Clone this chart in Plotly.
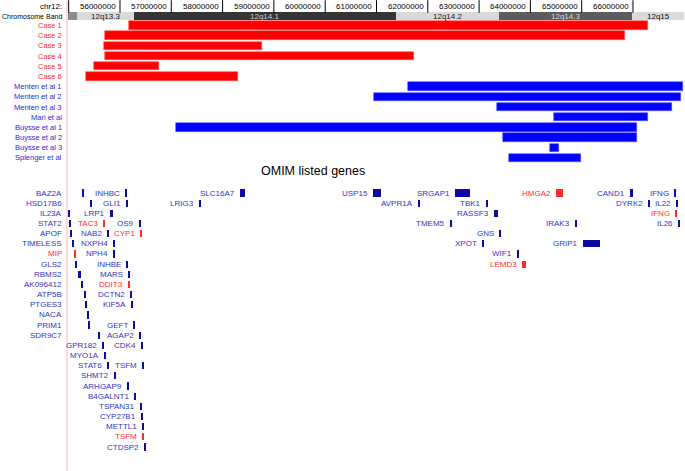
import plotly.graph_objects as go

# ---------------- data (positions in Mb on chr12) ----------------
tick_values = [55, 56, 57, 58, 59, 60, 61, 62, 63, 64, 65, 66]
tick_labels = ["", "56000000", "57000000", "58000000", "59000000", "60000000",
               "61000000", "62000000", "63000000", "64000000", "65000000", "66000000"]

band_names = ["", "12q13.3", "12q14.1", "12q14.2", "12q14.3", "12q15"]
band_starts = [54.98, 55.16, 56.27, 61.38, 63.39, 65.98]
band_ends = [55.16, 56.27, 61.38, 63.39, 65.98, 67.00]
band_colors = ["#8c8c8c", "#d9d9d9", "#353535", "#d9d9d9", "#5c5c5c", "#d9d9d9"]
band_text_colors = ["#000000", "#222222", "#d0d0d0", "#222222", "#d8d8d8", "#111111"]

track_names = ["Case 1", "Case 2", "Case 3", "Case 4", "Case 5", "Case 6",
               "Menten et al 1", "Menten et al 2", "Menten et al 3", "Mari et al",
               "Buysse et al 1", "Buysse et al 2", "Buysse et al 3", "Splenger et al"]
track_starts = [56.175, 55.71, 55.69, 55.71, 55.49, 55.34,
                61.61, 60.95, 63.35, 64.46, 57.09, 63.47, 64.38, 63.58]
track_ends = [66.29, 65.84, 58.77, 61.73, 56.76, 58.30,
              66.97, 66.94, 66.76, 66.29, 66.08, 66.08, 64.56, 64.99]
track_is_case = [True] * 6 + [False] * 8

gene_names = ["BAZ2A", "INHBC", "SLC16A7", "USP15", "SRGAP1", "HMGA2", "CAND1", "IFNG",
              "HSD17B6", "GLI1", "LRIG3", "AVPR1A", "TBK1", "DYRK2", "IL22",
              "IL23A", "LRP1", "RASSF3", "IFNG",
              "STAT2", "TAC3", "OS9", "TMEM5", "IRAK3", "IL26",
              "APOF", "NAB2", "CYP1", "GNS",
              "TIMELESS", "NXPH4", "XPOT", "GRIP1",
              "MIP", "NPH4", "WIF1",
              "GLS2", "INHBE", "LEMD3",
              "RBMS2", "MARS",
              "AK096412", "DDIT3",
              "ATP5B", "DCTN2",
              "PTGES3", "KIF5A",
              "NACA",
              "PRIM1", "GEFT",
              "SDR9C7", "AGAP2",
              "GPR182", "CDK4",
              "MYO1A",
              "STAT6", "TSFM",
              "SHMT2", "ARHGAP9", "B4GALNT1", "TSPAN31", "CYP27B1", "METTL1", "TSFM", "CTDSP2"]
gene_rows = [0, 0, 0, 0, 0, 0, 0, 0,
             1, 1, 1, 1, 1, 1, 1,
             2, 2, 2, 2,
             3, 3, 3, 3, 3, 3,
             4, 4, 4, 4,
             5, 5, 5, 5,
             6, 6, 6,
             7, 7, 7,
             8, 8,
             9, 9,
             10, 10,
             11, 11,
             12,
             13, 13,
             14, 14,
             15, 15,
             16,
             17, 17,
             18, 19, 20, 21, 22, 23, 24, 25]
gene_starts = [55.26, 56.10, 58.34, 60.93, 62.53, 64.50, 65.94, 66.805,
               55.415, 56.12, 57.54, 61.815, 63.135, 66.295, 66.843,
               54.99, 55.805, 63.29, 66.823,
               55.01, 55.673, 56.37, 62.435, 64.87, 66.882,
               55.03, 55.751, 56.394, 63.39,
               55.065, 55.868, 63.057, 65.025,
               55.108, 55.868, 63.74,
               55.127, 56.121, 63.836,
               55.181, 56.155,
               55.24, 56.16,
               55.303, 56.199,
               55.322, 56.21,
               55.361,
               55.38, 56.258,
               55.576, 56.375,
               55.654, 56.414,
               55.69,
               55.751, 56.433,
               55.888, 56.141, 56.277, 56.394, 56.414, 56.433, 56.433, 56.467]
gene_ends = [55.30, 56.13, 58.44, 61.09, 62.82, 64.64, 66.00, 66.835,
             55.455, 56.15, 57.58, 61.845, 63.175, 66.325, 66.873,
             55.02, 55.865, 63.37, 66.853,
             55.04, 55.703, 56.41, 62.465, 64.91, 66.912,
             55.06, 55.781, 56.424, 63.43,
             55.105, 55.898, 63.097, 65.357,
             55.138, 55.898, 63.78,
             55.157, 56.151, 63.916,
             55.24, 56.195,
             55.28, 56.19,
             55.333, 56.229,
             55.352, 56.255,
             55.391,
             55.41, 56.288,
             55.606, 56.405,
             55.684, 56.444,
             55.73,
             55.781, 56.463,
             55.918, 56.171, 56.307, 56.424, 56.444, 56.463, 56.463, 56.507]
gene_highlight = ["TAC3", "CYP1", "MIP", "LEMD3", "DDIT3", "HMGA2"]
gene_highlight_extra = [(2, "IFNG"), (24, "TSFM")]  # red duplicates (row, name)
gene_label_in_margin = ["BAZ2A", "HSD17B6", "IL23A", "STAT2", "APOF", "TIMELESS", "MIP",
                        "GLS2", "RBMS2", "AK096412", "ATP5B", "PTGES3", "NACA", "PRIM1", "SDR9C7"]

# ---------------- layout constants ----------------
W, H = 685, 471
X_RANGE = [53.661, 67.014]
LABEL_EDGE = 64 / W
BAND_Y = 16
TRACK_Y0, GENE_Y0, ROW_STEP, GENE_STEP = 25.5, 193.0, 10.19, 10.16
FONT = "Liberation Sans, Arial, sans-serif"
RED = "#ff2b2b"
BLUE_TXT = "#2b2bd6"
GENE_TXT = "#3434c4"
GENE_BAR = "#0c0ca0"

track_y = [TRACK_Y0 + i * ROW_STEP for i in range(len(track_names))]
gene_y = [GENE_Y0 + r * GENE_STEP for r in gene_rows]
gene_red = [(n in gene_highlight) or ((r, n) in gene_highlight_extra)
            for n, r in zip(gene_names, gene_rows)]

fig = go.Figure()

# chromosome bands
fig.add_trace(go.Bar(
    orientation="h", base=band_starts,
    x=[e - s for s, e in zip(band_starts, band_ends)],
    y=[BAND_Y] * len(band_starts), width=8,
    marker=dict(color=band_colors, line=dict(width=0)), hoverinfo="skip"))

# tracks
fig.add_trace(go.Bar(
    orientation="h", base=track_starts,
    x=[e - s for s, e in zip(track_starts, track_ends)],
    y=track_y, width=8.4,
    marker=dict(color=["#ff0000" if c else "#0000ff" for c in track_is_case],
                line=dict(color=["#ff5050" if c else "#5050ff" for c in track_is_case], width=0.6)),
    hoverinfo="skip"))

# genes
fig.add_trace(go.Bar(
    orientation="h", base=gene_starts,
    x=[e - s for s, e in zip(gene_starts, gene_ends)],
    y=gene_y, width=7.2,
    marker=dict(color=[RED if r else GENE_BAR for r in gene_red], line=dict(width=0)),
    hoverinfo="skip"))

# top ruler tick marks
fig.add_trace(go.Scatter(
    x=tick_values, y=[6.5] * len(tick_values), mode="markers",
    marker=dict(symbol="line-ns", size=9, line=dict(color="#000000", width=1)),
    hoverinfo="skip"))

ann = []
for v, t in zip(tick_values, tick_labels):
    if t:
        ann.append(dict(x=v, y=6.5, xref="x", yref="y", text=t, showarrow=False,
                        xanchor="right", yanchor="middle", xshift=-2,
                        font=dict(family=FONT, size=8, color="#000000")))
ann.append(dict(x=LABEL_EDGE, y=6.5, xref="paper", yref="y", text="chr12:", showarrow=False,
                xanchor="right", yanchor="middle", font=dict(family=FONT, size=8, color="#000000")))
ann.append(dict(x=LABEL_EDGE, y=BAND_Y, xref="paper", yref="y", text="Chromosome Band",
                showarrow=False, xanchor="right", yanchor="middle",
                font=dict(family=FONT, size=7, color="#000000")))
for n, s, e, tc in zip(band_names, band_starts, band_ends, band_text_colors):
    if n:
        ann.append(dict(x=(s + e) / 2, y=BAND_Y, xref="x", yref="y", text=n, showarrow=False,
                        xanchor="center", yanchor="middle",
                        font=dict(family=FONT, size=8, color=tc)))
for n, y, c in zip(track_names, track_y, track_is_case):
    ann.append(dict(x=LABEL_EDGE, y=y, xref="paper", yref="y", text=n, showarrow=False,
                    xanchor="right", yanchor="middle",
                    font=dict(family=FONT, size=7.5, color=RED if c else BLUE_TXT)))
ann.append(dict(x=312.5 / W, y=171, xref="paper", yref="y", text="OMIM listed genes",
                showarrow=False, xanchor="center", yanchor="middle",
                font=dict(family=FONT, size=12.5, color="#000000")))
for n, s, y, red in zip(gene_names, gene_starts, gene_y, gene_red):
    col = RED if red else GENE_TXT
    if n in gene_label_in_margin:
        ann.append(dict(x=LABEL_EDGE, y=y, xref="paper", yref="y", text=n, showarrow=False,
                        xanchor="right", yanchor="middle", font=dict(family=FONT, size=8, color=col)))
    else:
        ann.append(dict(x=s, y=y, xref="x", yref="y", text=n, showarrow=False,
                        xanchor="right", yanchor="middle", xshift=-3,
                        font=dict(family=FONT, size=8, color=col)))

fig.update_layout(
    width=W, height=H, margin=dict(l=0, r=0, t=0, b=0),
    paper_bgcolor="white", plot_bgcolor="white", showlegend=False,
    barmode="overlay", bargap=0,
    xaxis=dict(range=X_RANGE, visible=False, fixedrange=True),
    yaxis=dict(range=[H, 0], visible=False, fixedrange=True),
    annotations=ann,
    shapes=[dict(type="line", xref="paper", yref="paper", x0=67 / W, x1=67 / W, y0=0, y1=1,
                 line=dict(color="#ffb4b4", width=1), layer="below")],
)

fig.write_html("out.html", config={"displayModeBar": False},
               post_script="document.body.style.margin='0px';document.body.style.overflow='hidden';")
